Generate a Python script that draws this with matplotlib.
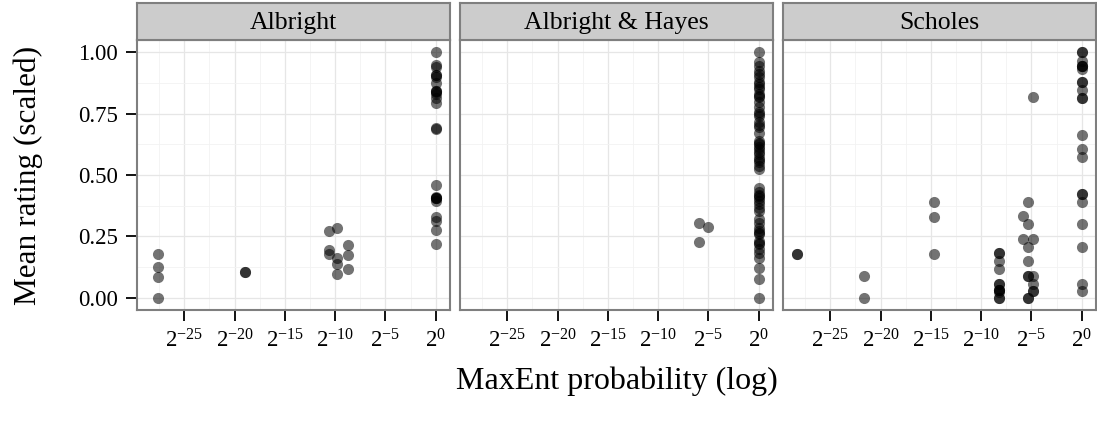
import numpy as np
import matplotlib
matplotlib.use('Agg')
import matplotlib.pyplot as plt
from matplotlib.ticker import FixedLocator, FixedFormatter

plt.rcParams['font.family'] = ['Liberation Serif', 'DejaVu Serif']
plt.rcParams['mathtext.fontset'] = 'custom'
plt.rcParams['mathtext.rm'] = 'Liberation Serif'
plt.rcParams['mathtext.it'] = 'Liberation Serif:italic'

# data: log2 of the MaxEnt probability, and the scaled mean rating
panel_names = ['Albright', 'Albright & Hayes', 'Scholes']

albright_log2p = ([-27.6] * 4 + [-19.0] * 2 + [-10.6] * 3 + [-9.8] * 4 + [-8.7] * 3
                  + [0.0] * 25)
albright_rating = [0.178, 0.127, 0.085, 0.0,
                   0.105, 0.105,
                   0.272, 0.194, 0.178,
                   0.285, 0.161, 0.137, 0.096,
                   0.215, 0.175, 0.119,
                   1.0, 0.95, 0.94, 0.906, 0.906, 0.898, 0.875, 0.844, 0.842, 0.839,
                   0.83, 0.814, 0.794, 0.692, 0.688, 0.458, 0.41, 0.408, 0.408, 0.405,
                   0.394, 0.329, 0.313, 0.275, 0.218]

hayes_log2p = [-5.96, -5.96, -5.03] + [0.0] * 58
hayes_rating = [0.303, 0.227, 0.29,
                1.0, 0.959, 0.946, 0.925, 0.912, 0.898, 0.878, 0.870, 0.857, 0.850,
                0.830, 0.822, 0.816, 0.796, 0.776, 0.755, 0.748, 0.740, 0.714, 0.705,
                0.694, 0.673, 0.639, 0.630, 0.626, 0.615, 0.605, 0.595, 0.585, 0.571,
                0.560, 0.551, 0.537, 0.524,
                0.449, 0.429, 0.420, 0.415, 0.405, 0.395, 0.381, 0.367, 0.354, 0.320,
                0.306, 0.286, 0.272, 0.265, 0.259, 0.231, 0.225, 0.218, 0.197, 0.184,
                0.163, 0.122, 0.075, 0.0]

scholes_log2p = ([-28.3] * 2 + [-21.6] * 2 + [-14.7] * 3 + [-8.27] * 12 + [-5.84] * 2
                 + [-5.34] * 8 + [-4.84] * 6 + [0.0] * 22)
scholes_rating = [0.177, 0.177,
                  0.088, 0.0,
                  0.392, 0.329, 0.177,
                  0.181, 0.181, 0.150, 0.118, 0.057, 0.057, 0.030, 0.030, 0.030, 0.023, 0.0, 0.0,
                  0.333, 0.241,
                  0.392, 0.302, 0.208, 0.150, 0.088, 0.088, 0.0, 0.0,
                  0.816, 0.241, 0.088, 0.057, 0.027, 0.027,
                  1.0, 1.0, 0.966, 0.943, 0.943, 0.943, 0.932, 0.877, 0.877, 0.846,
                  0.812, 0.812, 0.664, 0.605, 0.574, 0.424, 0.424, 0.392, 0.302, 0.208,
                  0.057, 0.027]

panel_x = [albright_log2p, hayes_log2p, scholes_log2p]
panel_y = [albright_rating, hayes_rating, scholes_rating]

x_tick_exps = [-25, -20, -15, -10, -5, 0]
x_minor_exps = [-27.5, -22.5, -17.5, -12.5, -7.5, -2.5]
y_ticks = [0.0, 0.25, 0.5, 0.75, 1.0]
y_minor = [0.125, 0.375, 0.625, 0.875]

W, H = 1097, 428
fig = plt.figure(figsize=(W / 100, H / 100), dpi=100)

def fx(px):
    return px / W

def fy(py):
    # py measured from the top of the image
    return 1 - py / H

panel_left = [137, 460, 783]
panel_w = 313
panel_top, panel_bot = 40, 310
strip_top = 3
frame_col = '#7f7f7f'

for i, name in enumerate(panel_names):
    ax = fig.add_axes([fx(panel_left[i]), fy(panel_bot), fx(panel_w), (panel_bot - panel_top) / H])
    ax.set_xscale('log', base=2)
    ax.set_xlim(2.0 ** -29.7, 2.0 ** 1.42)
    ax.set_ylim(-0.05, 1.05)

    ax.scatter(np.exp2(panel_x[i]), panel_y[i], s=64, color='black', alpha=0.55,
               linewidths=0, zorder=3)

    ax.xaxis.set_major_locator(FixedLocator([2.0 ** e for e in x_tick_exps]))
    ax.xaxis.set_major_formatter(FixedFormatter(
        [r'$\mathregular{2^{%d}}$' % e for e in x_tick_exps]))
    ax.xaxis.set_minor_locator(FixedLocator([2.0 ** e for e in x_minor_exps]))
    ax.xaxis.set_minor_formatter(FixedFormatter([''] * len(x_minor_exps)))
    ax.yaxis.set_major_locator(FixedLocator(y_ticks))
    ax.yaxis.set_minor_locator(FixedLocator(y_minor))

    ax.grid(which='major', color='#e6e6e6', lw=0.9, zorder=0)
    ax.grid(which='minor', color='#f2f2f2', lw=0.6, zorder=0)
    ax.set_axisbelow(True)

    ax.tick_params(which='major', length=8, width=1.3, color='black', pad=5)
    ax.tick_params(axis='x', which='major', labelsize=16.5, pad=6)
    ax.tick_params(axis='y', which='major', labelsize=16.5, pad=6)
    ax.tick_params(which='minor', length=0)
    if i == 0:
        ax.set_yticklabels(['0.00', '0.25', '0.50', '0.75', '1.00'])
    else:
        ax.tick_params(axis='y', which='major', length=0, labelleft=False)

    for sp in ax.spines.values():
        sp.set_color(frame_col)
        sp.set_linewidth(1.5)

    # facet strip
    sax = fig.add_axes([fx(panel_left[i]), fy(panel_top), fx(panel_w), (panel_top - strip_top) / H])
    sax.set_facecolor('#cccccc')
    sax.set_xticks([])
    sax.set_yticks([])
    for sp in sax.spines.values():
        sp.set_color(frame_col)
        sp.set_linewidth(1.5)
    sax.text(0.5, 0.45, name, ha='center', va='center', fontsize=18.5,
             transform=sax.transAxes)

fig.text(fx(617), fy(381), 'MaxEnt probability (log)', ha='center', va='center', fontsize=23)
fig.text(fx(28), fy(175), 'Mean rating (scaled)', ha='center', va='center', fontsize=22.5,
         rotation=90)

fig.savefig('out.png', dpi=100)
